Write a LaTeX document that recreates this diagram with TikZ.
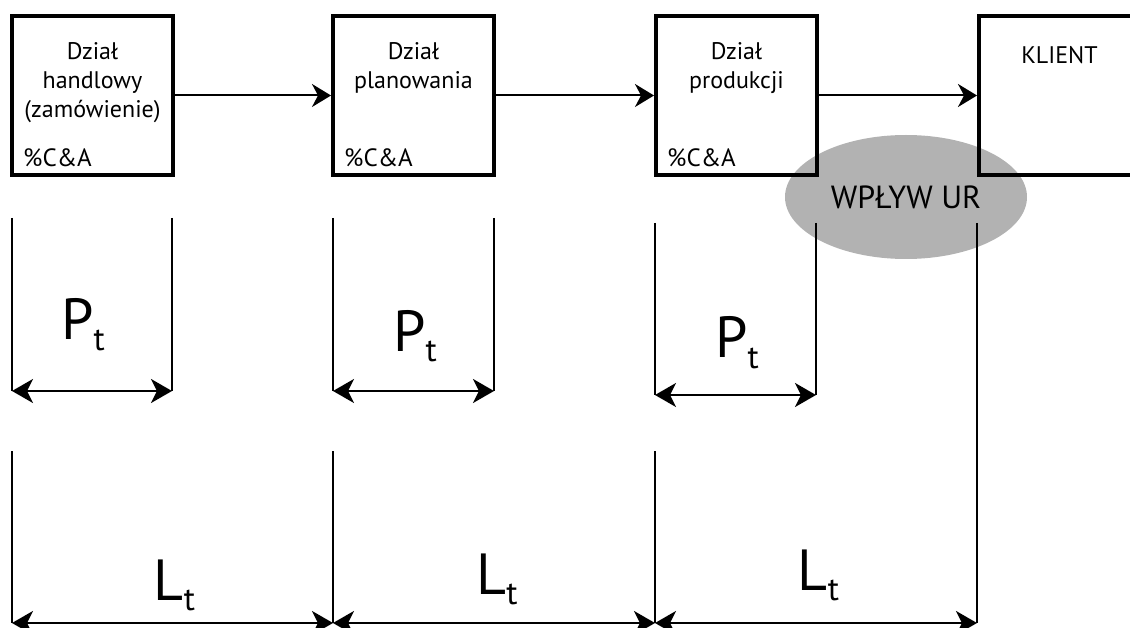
\documentclass[tikz,border=0pt]{standalone}
\usepackage{fontspec}
\setmainfont{PT Sans}
\usetikzlibrary{arrows.meta,shapes.geometric}

\newcommand{\znak}[1]{#1\raisebox{-10pt}{\fontsize{33}{33}\selectfont t}}

\tikzset{
	dzial/.style={draw,line width=4pt,minimum width=161pt,minimum height=159pt,inner sep=0pt},
	opis/.style={font=\fontsize{24}{29}\selectfont,align=center,inner sep=0pt},
	strz/.style={-{Stealth[length=19pt,width=23pt,inset=6pt]},line width=2pt},
	wymiar/.style={{Stealth[length=21pt,width=24pt,inset=6pt]}-{Stealth[length=21pt,width=24pt,inset=6pt]},line width=2.5pt},
	kreska/.style={line width=2pt},
	duzy/.style={font=\fontsize{58}{58}\selectfont,inner sep=0pt,anchor=base}
}

\begin{document}
\begin{tikzpicture}[x=1pt,y=-1pt]
			\useasboundingbox (0,0) rectangle (1130,628);
			\node[ellipse,fill=black!30,minimum width=242pt,minimum height=124pt,inner sep=0pt,font=\fontsize{32}{32}\selectfont] (wplyw) at (906,197) {WPŁYW UR};

			\node[dzial] (handel) at (92.5,95.5) {};
			\node[dzial] (plan) at (413.5,95.5) {};
			\node[dzial] (prod) at (736.5,95.5) {};
			\node[dzial] (klient) at (1059.5,95.5) {};
			\node[opis,anchor=north] (thandel) at (92.5,42) {Dział\\handlowy\\(zamówienie)};
			\node[opis,anchor=north] (tplan) at (413.5,42) {Dział\\planowania};
			\node[opis,anchor=north] (tprod) at (736.5,42) {Dział\\produkcji};
			\node[opis,anchor=north] (tklient) at (1059.5,46) {KLIENT};
			\foreach \b in {handel,plan,prod}{
				\node[opis,anchor=base west,xshift=13pt,yshift=10pt,font=\fontsize{25}{29}\selectfont] (ca\b) at (\b.south west) {\%C\&A};
			}
			\draw[strz] (handel) -- (plan);
			\draw[strz] (plan) -- (prod);
			\draw[strz] (prod) -- (klient);

			% P_t
			\foreach \n/\xa/\xb/\yg/\yd in {1/12/172/218/391, 2/333/494/218/391, 3/655/816/223/395}{
				\coordinate (pg\n a) at (\xa,\yg);
				\coordinate (pg\n b) at (\xb,\yg);
				\coordinate (pd\n a) at (\xa,\yd);
				\coordinate (pd\n b) at (\xb,\yd);
				\draw[kreska] (pg\n a) -- (pd\n a);
				\draw[kreska] (pg\n b) -- (pd\n b);
				\draw[wymiar] (pd\n a) -- (pd\n b);
			}
			\node[duzy] (p1) at (83,340) {\znak{P}};
			\node[duzy] (p2) at (415,352) {\znak{P}};
			\node[duzy] (p3) at (737,358) {\znak{P}};

			% L_t
			\foreach \n/\x/\yg in {1/12/451, 2/333/451, 3/655/451, 4/977/223}{
				\coordinate (lg\n) at (\x,\yg);
				\coordinate (ld\n) at (\x,623);
				\draw[kreska] (lg\n) -- (ld\n);
			}
			\draw[wymiar] (ld1) -- (ld2);
			\draw[wymiar] (ld2) -- (ld3);
			\draw[wymiar] (ld3) -- (ld4);
			\node[duzy] (l1) at (174.5,600) {\znak{L}};
			\node[duzy] (l2) at (497,594) {\znak{L}};
			\node[duzy] (l3) at (818.5,590) {\znak{L}};
\end{tikzpicture}
\end{document}
